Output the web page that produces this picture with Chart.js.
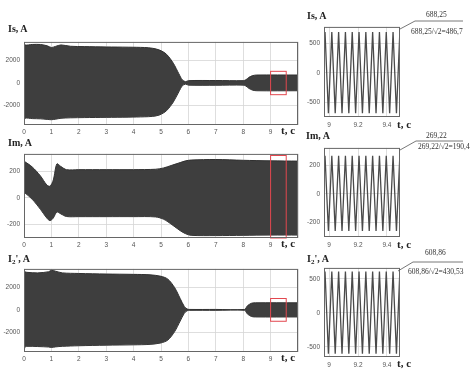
<!DOCTYPE html>
<html>
<head>
<meta charset="utf-8">
<script src="https://cdn.jsdelivr.net/npm/chart.js@4.4.0/dist/chart.umd.min.js"></script>
<style>
  body { margin: 0; background: #fff; }
  #wrap { position: relative; width: 471px; height: 369px; overflow: hidden; background: #fff; }
  canvas { position: absolute; }
  .ttl { position: absolute; font: bold 10px "Liberation Serif", serif; color: #222; line-height: 10px; white-space: nowrap; }
  .ttl sub { font-size: 7px; vertical-align: -2px; line-height: 0; }
  .tc { position: absolute; font: bold 11px "Liberation Serif", serif; color: #222; line-height: 11px; white-space: nowrap; }
  .note { position: absolute; font: 7.5px "Liberation Serif", serif; color: #333; line-height: 9px; white-space: nowrap; }
  svg { position: absolute; left: 0; top: 0; }
</style>
</head>
<body>
<div id="wrap">
  <canvas id="is-full"></canvas>
  <canvas id="im-full"></canvas>
  <canvas id="i2-full"></canvas>
  <canvas id="is-zoom"></canvas>
  <canvas id="im-zoom"></canvas>
  <canvas id="i2-zoom"></canvas>

  <svg width="471" height="369">
    <polyline points="400,29 415,21 463,21" fill="none" stroke="#555" stroke-width="0.8"/>
    <polyline points="400,150 416,141 463,141" fill="none" stroke="#555" stroke-width="0.8"/>
    <polyline points="398,271 413,262 463,262" fill="none" stroke="#555" stroke-width="0.8"/>
  </svg>

  <div class="ttl" style="left:8px;top:24px">Is, A</div>
  <div class="ttl" style="left:8px;top:138px">Im, A</div>
  <div class="ttl" style="left:8px;top:254px">I<sub>2</sub>', A</div>
  <div class="ttl" style="left:307px;top:11px">Is, A</div>
  <div class="ttl" style="left:306px;top:131px">Im, A</div>
  <div class="ttl" style="left:307px;top:254px">I<sub>2</sub>', A</div>

  <div class="tc" style="left:281px;top:125px">t, c</div>
  <div class="tc" style="left:281px;top:238px">t, c</div>
  <div class="tc" style="left:281px;top:352px">t, c</div>
  <div class="tc" style="left:397px;top:119px">t, c</div>
  <div class="tc" style="left:397px;top:239px">t, c</div>
  <div class="tc" style="left:397px;top:358px">t, c</div>

  <div class="note" style="left:426px;top:10px">688,25</div>
  <div class="note" style="left:411px;top:27px">688,25/√2=486,7</div>
  <div class="note" style="left:426px;top:131px">269,22</div>
  <div class="note" style="left:418px;top:142px">269,22/√2=190,4</div>
  <div class="note" style="left:425px;top:248px">608,86</div>
  <div class="note" style="left:408px;top:267px">608,86/√2=430,53</div>
</div>
<script>
// tick values
const fullTicksX = [0, 1, 2, 3, 4, 5, 6, 7, 8, 9, 10];
const zoomTicksX = [9, 9.2, 9.4];
const bigTicksY = [-2000, 0, 2000];
const imTicksY = [-200, 0, 200];
const isZoomTicksY = [-500, 0, 500];
const imZoomTicksY = [-200, 0, 200];
const i2ZoomTicksY = [-500, 0, 500];

// envelopes of the 0..10 s records (upper / lower)
const isT  = [0, 0.04, 0.3, 0.6, 0.85, 1.0, 1.15, 1.35, 1.7, 2.2, 3.0, 3.8, 4.4, 4.7, 4.95, 5.2, 5.45, 5.65, 5.78, 5.9, 6.0, 7.0, 8.0, 8.1, 8.2, 8.35, 8.5, 10];
const isUp = [3650, 3380, 3420, 3420, 3300, 3150, 3250, 3380, 3260, 3230, 3200, 3180, 3150, 3080, 2920, 2550, 1750, 820, 260, 110, 200, 210, 200, 280, 480, 650, 700, 700];
const isLo = [-3500, -3150, -3180, -3200, -3250, -3280, -3230, -3150, -3110, -3090, -3070, -3050, -3020, -2980, -2850, -2480, -1700, -800, -250, -110, -200, -210, -200, -280, -480, -650, -700, -700];

const imT  = [0, 0.3, 0.6, 0.83, 0.95, 1.07, 1.2, 1.35, 1.55, 2.0, 3.0, 4.0, 4.8, 5.1, 5.4, 5.7, 5.9, 6.1, 7.0, 8.0, 9.0, 10];
const imUp = [276, 232, 165, 98, 88, 135, 255, 235, 212, 212, 212, 212, 215, 225, 245, 265, 278, 284, 288, 282, 278, 276];
const imLo = [44, -10, -85, -150, -170, -150, -105, -120, -139, -140, -140, -140, -142, -160, -200, -245, -268, -280, -282, -280, -278, -278];

const i2T  = [0, 0.03, 0.1, 0.5, 0.9, 1.0, 1.15, 1.4, 2, 3, 4, 4.6, 5.0, 5.25, 5.5, 5.7, 5.85, 5.95, 6.05, 7, 8.05, 8.15, 8.3, 8.45, 10];
const i2Up = [3300, 3350, 3300, 3250, 3350, 3480, 3400, 3250, 3200, 3150, 3120, 3080, 2950, 2700, 1950, 1000, 300, 80, 40, 40, 40, 350, 580, 620, 620];
const i2Lo = [-3650, -3300, -3200, -3220, -3260, -3300, -3250, -3200, -3150, -3100, -3070, -3030, -2900, -2650, -1900, -980, -300, -80, -40, -40, -40, -350, -580, -620, -620];

// 8.97..9.49 s windows: turning points of the waveform
const zoomT = [8.9485, 8.972, 8.9955, 9.019, 9.0425, 9.066, 9.0895, 9.113, 9.1365, 9.16, 9.1835, 9.207, 9.2305, 9.254, 9.2775, 9.301, 9.3245, 9.348, 9.3715, 9.395, 9.4185, 9.442, 9.4655, 9.489, 9.5125];
const isZoomV = [-680, 688, -680, 688, -680, 688, -680, 688, -680, 688, -680, 688, -680, 688, -680, 688, -680, 688, -680, 688, -680, 688, -680, 688, -680];
const imZoomV = [-262, 269, -262, 269, -262, 269, -262, 269, -262, 269, -262, 269, -262, 269, -262, 269, -262, 269, -262, 269, -262, 269, -262, 269, -262];
const i2ZoomV = [-600, 609, -600, 609, -600, 609, -600, 609, -600, 609, -600, 609, -600, 609, -600, 609, -600, 609, -600, 609, -600, 609, -600, 609, -600];

// red frames marking the zoomed window [t0, t1, y0, y1]
const isBox = [9.0, 9.57, -1050, 1030];
const imBox = [9.0, 9.57, -300, 318];
const i2Box = [9.0, 9.57, -1000, 1000];

const tickFont = { family: '"Liberation Sans Narrow", "Liberation Sans", sans-serif', size: 6.5 };

const framePlugin = {
    id: 'frame',
    afterDatasetsDraw(chart, args, opts) {
        const { ctx, chartArea: a, scales } = chart;
        ctx.save();
        if (opts.box) {
            const [t0, t1, y0, y1] = opts.box;
            const x0 = scales.x.getPixelForValue(t0);
            const x1 = scales.x.getPixelForValue(t1);
            const py0 = scales.y.getPixelForValue(y1);
            const py1 = scales.y.getPixelForValue(y0);
            ctx.strokeStyle = '#e2474f';
            ctx.lineWidth = 1;
            ctx.strokeRect(x0, py0, x1 - x0, py1 - py0);
        }
        ctx.strokeStyle = '#666';
        ctx.lineWidth = 1;
        ctx.strokeRect(a.left + 0.5, a.top + 0.5, a.width - 1, a.height - 1);
        ctx.restore();
    }
};

function pts(xs, ys) {
    return xs.map((x, i) => ({ x: x, y: ys[i] }));
}

function band(t, up, lo) {
    return [
        { data: pts(t, up), borderColor: '#303030', backgroundColor: '#3e3e3e', borderWidth: 1, fill: '+1', pointRadius: 0, tension: 0.3 },
        { data: pts(t, lo), borderColor: '#303030', borderWidth: 1, fill: false, pointRadius: 0, tension: 0.3 }
    ];
}

function wave(t, v) {
    return [{ data: pts(t, v), borderColor: '#4a4a4a', borderWidth: 1.3, fill: false, pointRadius: 0, tension: 0 }];
}

function drawPanel(id, box, xr, yr, xTicks, yTicks, datasets, redBox, xPad) {
    const padL = 26, padT = 4, padR = 4, padB = 14;
    const cv = document.getElementById(id);
    cv.width = box.w + padL + padR;
    cv.height = box.h + padT + padB;
    cv.style.left = (box.l - padL) + 'px';
    cv.style.top = (box.t - padT) + 'px';

    new Chart(cv, {
        type: 'line',
        data: { datasets: datasets },
        options: {
            responsive: false,
            animation: false,
            devicePixelRatio: 1,
            layout: { padding: { top: padT, right: padR, left: 0, bottom: 0 } },
            plugins: {
                legend: { display: false },
                tooltip: { enabled: false },
                frame: { box: redBox }
            },
            scales: {
                x: {
                    type: 'linear', min: xr[0], max: xr[1],
                    afterBuildTicks: s => { s.ticks = xTicks.map(v => ({ value: v })); },
                    afterFit: s => { s.height = padB; },
                    grid: { color: '#d6d6d6', lineWidth: 0.8, drawTicks: false },
                    border: { display: false },
                    ticks: {
                        padding: xPad, color: '#555', font: tickFont, maxRotation: 0, autoSkip: false,
                        callback: v => (v === 10 ? '' : String(v))
                    }
                },
                y: {
                    type: 'linear', min: yr[0], max: yr[1],
                    afterBuildTicks: s => { s.ticks = yTicks.map(v => ({ value: v })); },
                    afterFit: s => { s.width = padL; },
                    grid: { color: '#d6d6d6', lineWidth: 0.8, drawTicks: false },
                    border: { display: false },
                    ticks: { padding: 4, color: '#555', font: tickFont, callback: v => String(v) }
                }
            }
        },
        plugins: [framePlugin]
    });
}

drawPanel('is-full', { l: 24, t: 38, w: 274, h: 87 }, [0, 10], [-3750, 3650], fullTicksX, bigTicksY, band(isT, isUp, isLo), isBox, 3);
drawPanel('im-full', { l: 24, t: 150, w: 274, h: 88 }, [0, 10], [-300, 330], fullTicksX, imTicksY, band(imT, imUp, imLo), imBox, 3);
drawPanel('i2-full', { l: 24, t: 265, w: 274, h: 87 }, [0, 10], [-3700, 3600], fullTicksX, bigTicksY, band(i2T, i2Up, i2Lo), i2Box, 3);

drawPanel('is-zoom', { l: 324, t: 23, w: 76, h: 94 }, [8.965, 9.49], [-742, 774], zoomTicksX, isZoomTicksY, wave(zoomT, isZoomV), null, 4);
drawPanel('im-zoom', { l: 324, t: 144, w: 76, h: 93 }, [8.965, 9.49], [-305, 325], zoomTicksX, imZoomTicksY, wave(zoomT, imZoomV), null, 4);
drawPanel('i2-zoom', { l: 324, t: 264, w: 76, h: 93 }, [8.965, 9.49], [-648, 662], zoomTicksX, i2ZoomTicksY, wave(zoomT, i2ZoomV), null, 4);
</script>
</body>
</html>
